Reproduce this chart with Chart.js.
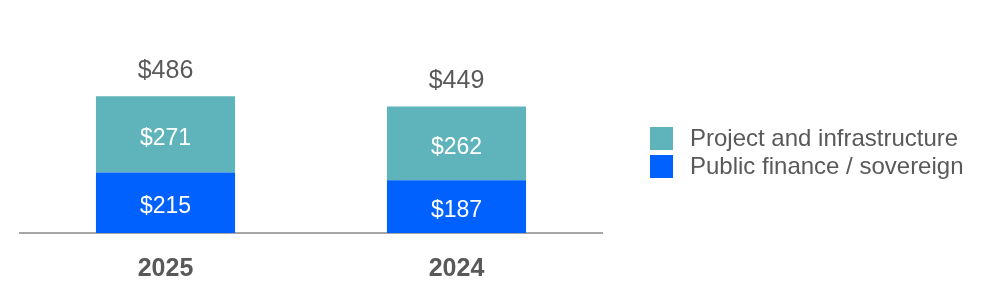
<!DOCTYPE html>
<html>
<head>
<meta charset="utf-8">
<script src="https://cdn.jsdelivr.net/npm/chart.js@4"></script>
<style>
  html, body { margin: 0; padding: 0; background: #fff; }
  #wrap { position: relative; width: 1000px; height: 300px; }
  #legend { position: absolute; left: 650px; top: 124px; font-family: "Liberation Sans", Arial, sans-serif; font-size: 24px; color: #595959; }
  .item { display: flex; align-items: center; height: 28px; }
  .box { width: 23px; height: 23px; margin-right: 17px; }
</style>
</head>
<body>
<div id="wrap">
  <canvas id="myChart" width="1000" height="300"></canvas>
  <div id="legend"></div>
</div>
<script>
const categories = ["2025", "2024"];
const public_finance = [215, 187];
const project_infra = [271, 262];
const series_names = ["Project and infrastructure", "Public finance / sovereign"];

const blue = "#0061FF";
const teal = "#5EB4BA";
const grey = "#595959";
const font_family = '"Liberation Sans", Arial, sans-serif';

// value labels inside segments and totals above
const labelPlugin = {
  id: "labels",
  afterDatasetsDraw(chart) {
    const ctx = chart.ctx;
    ctx.save();
    ctx.textAlign = "center";
    ctx.textBaseline = "middle";
    chart.data.datasets.forEach((ds, i) => {
      chart.getDatasetMeta(i).data.forEach((bar, j) => {
        const mid = (bar.y + bar.base) / 2;
        ctx.fillStyle = "#fff";
        ctx.font = "23px " + font_family;
        ctx.fillText("$" + ds.data[j], bar.x, mid + 4);
      });
    });
    const top = chart.getDatasetMeta(1).data;
    top.forEach((bar, j) => {
      const total = public_finance[j] + project_infra[j];
      ctx.fillStyle = grey;
      ctx.font = "25px " + font_family;
      ctx.fillText("$" + total, bar.x, bar.y - 25);
    });
    ctx.restore();
  },
};

const data = {
  labels: categories,
  datasets: [
    {
      label: series_names[1],
      data: public_finance,
      backgroundColor: blue,
      barPercentage: 0.478,
      categoryPercentage: 1,
    },
    {
      label: series_names[0],
      data: project_infra,
      backgroundColor: teal,
      barPercentage: 0.478,
      categoryPercentage: 1,
    },
  ],
};

const config = {
  type: "bar",
  data,
  plugins: [labelPlugin],
  options: {
    responsive: false,
    animation: false,
    layout: { padding: { left: 20, right: 398, top: 19, bottom: 0 } },
    plugins: { legend: { display: false }, tooltip: { enabled: false } },
    scales: {
      x: {
        stacked: true,
        grid: { display: false },
        border: { color: "#A6A6A6", width: 2 },
        ticks: { color: grey, padding: 13, font: { family: font_family, size: 25, weight: "bold" } },
        afterFit(scale) { scale.height = 67; },
      },
      y: {
        stacked: true,
        display: false,
        min: 0,
        max: 760,
      },
    },
  },
};

const myChart = new Chart(document.getElementById("myChart"), config);

// legend
const legend = document.getElementById("legend");
[[series_names[0], teal], [series_names[1], blue]].forEach(([name, color]) => {
  const row = document.createElement("div");
  row.className = "item";
  row.innerHTML = '<div class="box" style="background:' + color + '"></div><span>' + name + "</span>";
  legend.appendChild(row);
});
</script>
</body>
</html>
